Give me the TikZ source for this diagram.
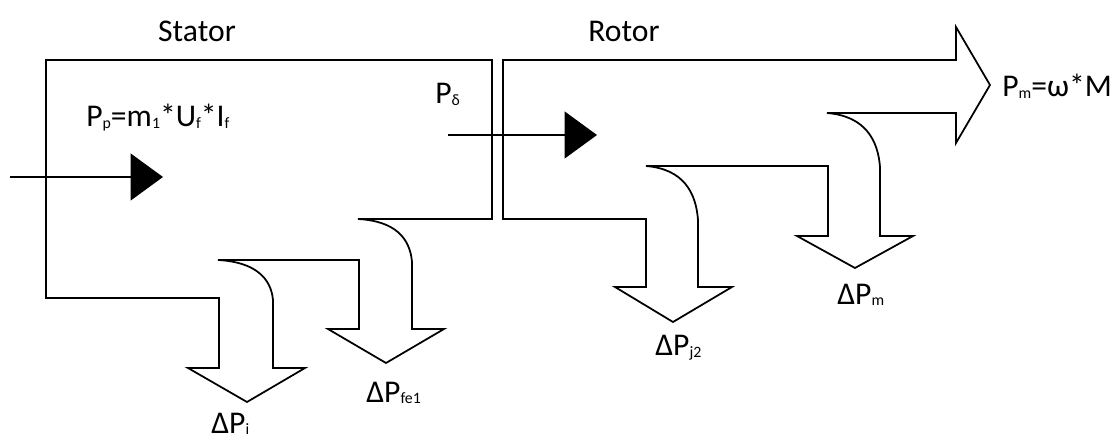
\documentclass[tikz,border=0pt]{standalone}
\usepackage{fontspec}
\setmainfont{Carlito}
\usepackage{tikz}
\usetikzlibrary{arrows.meta}

\newcommand\idx[1]{\raisebox{-1pt}{\fontsize{9}{9}\selectfont #1}}

\tikzset{
    flowshape/.style = {draw=black, line width=1pt, line join=miter},
    powerarrow/.style = {line width=1pt,
                         -{Triangle[length=0.65cm, width=0.94cm]}},
    lbl/.style       = {inner sep=0pt, anchor=base west,
                        font=\fontsize{18}{20}\selectfont}
}

\begin{document}
\begin{tikzpicture}[x=0.02cm, y=-0.02cm]

\useasboundingbox (0,0) rectangle (1117,439);

% --- Stator block with its two loss branches ---
\draw[flowshape] (46,60) -- (492,60) -- (492,219) -- (358,219)
   .. controls (395,221) and (410,238) .. (412,262) -- (412,329)
   -- (444,329) -- (386,363) -- (328,329) -- (359,329) -- (359,260)
   -- (218,260) .. controls (255,262) and (271,278) .. (273,300)
   -- (273,368) -- (305,368) -- (247,402) -- (188,368) -- (219,368)
   -- (219,298) -- (46,298) -- cycle;

% --- Rotor block with output arrow and two loss branches ---
\draw[flowshape] (503,60) -- (956,60) -- (956,27) -- (990,85)
   -- (956,143) -- (956,113) -- (827,113)
   .. controls (865,116) and (878,140) .. (880,167) -- (880,236)
   -- (913,236) -- (855,268) -- (797,236) -- (828,236) -- (828,166)
   -- (646,166) .. controls (683,169) and (696,192) .. (698,220)
   -- (698,287) -- (732,287) -- (673,322) -- (615,287) -- (646,287)
   -- (646,219) -- (503,219) -- cycle;

% --- Power flow arrows ---
\coordinate (inS)  at (10,177);
\coordinate (inT)  at (163,177);
\coordinate (gapS) at (448,135);
\coordinate (gapT) at (597,135);
\draw[powerarrow] (inS) -- (inT);
\draw[powerarrow] (gapS) -- (gapT);

% --- Labels ---
\node[lbl, anchor=base] (stator) at (197,42) {Stator};
\node[lbl, anchor=base] (rotor)  at (624,42) {Rotor};
\node[lbl] (pin)   at (86,127)  {P\idx{p}=m\idx{1}*U\idx{f}*I\idx{f}};
\node[lbl] (pgap)  at (435,104) {P\idx{δ}};
\node[lbl] (pout)  at (1002,97) {P\idx{m}=ω*M};
\node[lbl] (lossi) at (211,433) {ΔP\idx{i}};
\node[lbl] (lossfe) at (366,402) {ΔP\idx{fe1}};
\node[lbl] (lossj) at (655,356) {ΔP\idx{j2}};
\node[lbl] (lossm) at (837,304) {ΔP\idx{m}};

\end{tikzpicture}
\end{document}
